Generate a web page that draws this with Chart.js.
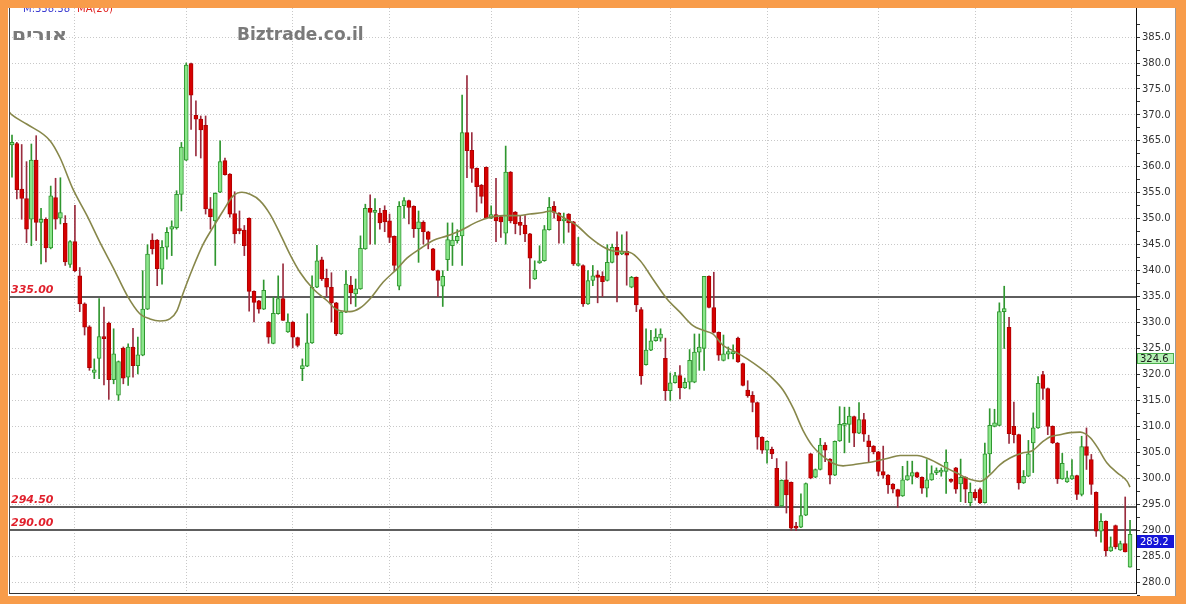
<!DOCTYPE html>
<html>
<head>
<meta charset="utf-8">
<script src="https://cdn.jsdelivr.net/npm/chart.js"></script>
<style>
  html, body { margin: 0; padding: 0; background: #f89c4a; }
  #wrap { width: 1186px; height: 604px; position: relative; }
</style>
</head>
<body>
<div id="wrap"><canvas id="priceChart"></canvas></div>
<script>
// ==================== DATA ====================
const opens = [
  364.2, 364.5, 355.7, 353.9, 349.9, 361.3, 349.3, 349.9, 344.4, 354.1,
  350.1, 349.1, 341.2, 345.6, 339.0, 333.6, 329.2, 320.4, 323.1, 327.3,
  329.9, 319.0, 316.0, 325.1, 319.5, 325.3, 321.7, 323.7, 332.6, 345.9,
  345.9, 340.3, 344.5, 348.0, 348.3, 354.7, 361.3, 379.9, 369.9, 369.2,
  368.0, 351.9, 349.6, 355.1, 361.2, 358.6, 351.0, 348.1, 347.8, 350.1,
  336.0, 334.2, 332.6, 330.1, 326.0, 331.7, 334.6, 328.2, 330.1, 327.1,
  321.1, 321.6, 326.1, 336.8, 342.1, 338.5, 336.8, 333.8, 327.8, 332.0,
  337.2, 335.5, 336.5, 344.2, 352.0, 351.2, 351.1, 351.6, 349.6, 346.6,
  337.0, 352.5, 353.5, 352.4, 348.1, 349.3, 347.5, 344.2, 340.0, 337.0,
  342.1, 344.8, 345.8, 346.7, 366.6, 363.2, 359.7, 356.5, 359.9, 350.1,
  350.8, 350.4, 347.2, 359.0, 351.3, 349.3, 348.8, 347.1, 338.4, 341.5,
  341.9, 347.9, 352.4, 351.1, 349.6, 350.9, 349.4, 341.0, 341.0, 333.6,
  338.1, 339.2, 338.9, 338.1, 341.6, 344.5, 343.2, 343.7, 336.8, 338.7,
  332.5, 321.9, 324.7, 326.5, 327.0, 323.1, 316.9, 318.4, 319.8, 317.4,
  318.5, 318.5, 324.3, 325.0, 338.9, 332.9, 328.1, 322.7, 323.9, 324.0,
  327.0, 322.1, 317.0, 316.0, 314.6, 307.9, 305.4, 305.6, 301.9, 294.7,
  299.7, 299.2, 290.6, 290.6, 292.9, 304.7, 300.2, 301.7, 306.4, 303.7,
  300.6, 307.2, 310.2, 310.4, 311.9, 308.7, 311.3, 307.2, 306.2, 305.1,
  301.3, 300.6, 298.9, 297.8, 296.6, 299.7, 300.4, 301.1, 300.2, 298.1,
  299.7, 301.1, 301.2, 301.3, 299.8, 302.0, 298.9, 300.2, 295.3, 297.3,
  297.8, 295.3, 304.7, 310.0, 310.2, 332.1, 329.1, 310.0, 308.4, 299.1,
  300.4, 306.8, 309.7, 320.0, 317.3, 310.0, 306.8, 299.9, 299.3, 299.9,
  300.5, 296.9, 306.1, 303.6, 297.3, 289.8, 291.7, 286.0, 290.9, 286.2,
  287.4, 282.9
];
const highs = [
  366.1, 364.7, 364.3, 361.0, 364.4, 366.0, 352.0, 350.2, 356.3, 357.8,
  357.9, 350.6, 345.8, 352.6, 340.6, 333.8, 329.4, 323.0, 334.6, 333.0,
  330.1, 328.8, 322.6, 325.3, 325.9, 328.9, 327.2, 340.0, 345.0, 347.1,
  346.0, 345.8, 348.3, 349.6, 355.4, 364.7, 380.0, 380.0, 372.7, 369.8,
  369.8, 354.1, 355.0, 365.0, 361.7, 358.7, 355.2, 351.5, 348.7, 350.2,
  336.1, 334.3, 338.2, 330.2, 334.9, 339.0, 341.3, 331.7, 330.2, 327.2,
  323.0, 331.7, 339.0, 344.9, 342.6, 340.3, 339.6, 333.9, 332.1, 340.0,
  338.9, 338.4, 346.7, 352.8, 354.6, 353.9, 352.0, 352.5, 350.9, 346.7,
  353.3, 354.1, 353.6, 352.5, 351.5, 349.6, 347.6, 344.3, 340.1, 340.0,
  349.2, 349.2, 347.9, 373.8, 377.6, 366.6, 359.8, 356.6, 360.0, 352.5,
  357.8, 350.5, 364.0, 359.1, 351.4, 350.6, 350.6, 347.2, 341.9, 344.8,
  348.7, 354.1, 353.3, 351.2, 351.1, 351.0, 349.5, 346.4, 341.1, 340.0,
  341.0, 340.0, 339.8, 345.0, 345.1, 347.5, 346.9, 347.5, 338.9, 338.8,
  332.9, 328.8, 328.5, 328.8, 328.8, 327.0, 320.3, 320.4, 321.7, 319.3,
  324.8, 327.8, 327.8, 338.9, 339.0, 339.7, 328.2, 327.6, 325.3, 325.7,
  327.2, 322.2, 318.8, 316.7, 314.7, 308.0, 307.2, 306.0, 303.8, 299.7,
  303.2, 299.3, 291.5, 297.0, 299.1, 304.8, 301.8, 307.7, 306.9, 303.8,
  307.2, 313.8, 313.7, 313.7, 312.0, 314.6, 312.5, 308.3, 306.3, 305.2,
  306.2, 300.7, 299.0, 297.9, 302.3, 303.3, 303.3, 301.2, 300.3, 303.6,
  302.4, 302.0, 302.0, 305.5, 299.9, 302.1, 303.7, 300.3, 299.1, 297.8,
  298.1, 306.8, 313.4, 313.3, 333.8, 337.0, 331.0, 314.7, 308.5, 301.5,
  307.3, 312.6, 319.6, 320.6, 317.4, 310.1, 306.9, 304.8, 301.4, 303.6,
  300.6, 308.1, 309.7, 304.6, 297.4, 293.2, 291.8, 288.7, 291.0, 287.9,
  296.4, 291.9
];
const lows = [
  358.0, 353.8, 349.9, 345.4, 344.8, 345.8, 341.3, 341.7, 344.2, 348.0,
  349.0, 341.0, 340.6, 339.8, 332.1, 327.6, 320.8, 319.2, 319.2, 318.0,
  315.2, 318.2, 315.0, 318.2, 317.9, 319.5, 320.1, 323.6, 332.5, 343.2,
  337.1, 337.4, 342.2, 342.9, 348.0, 351.5, 361.2, 367.2, 362.1, 361.7,
  350.9, 348.0, 341.0, 355.0, 358.4, 350.3, 345.3, 347.1, 342.9, 332.2,
  330.1, 331.8, 332.5, 326.0, 325.9, 331.6, 330.4, 328.1, 325.1, 325.3,
  318.8, 321.5, 326.0, 336.7, 338.1, 335.0, 330.1, 327.5, 327.7, 331.9,
  333.6, 333.1, 336.4, 344.1, 345.1, 345.1, 348.0, 347.5, 345.4, 340.0,
  336.3, 350.1, 349.0, 346.4, 341.6, 345.1, 344.2, 340.0, 335.0, 333.1,
  340.0, 341.0, 345.3, 341.0, 357.9, 357.0, 351.3, 353.0, 350.0, 350.0,
  345.6, 346.4, 345.1, 349.2, 347.1, 346.9, 345.6, 336.6, 338.3, 341.4,
  341.8, 347.8, 350.1, 345.3, 345.3, 347.4, 341.0, 340.9, 333.1, 333.5,
  337.1, 333.8, 335.0, 338.0, 341.5, 334.0, 343.1, 337.2, 336.7, 332.1,
  318.1, 321.8, 324.6, 326.4, 326.4, 315.0, 315.0, 318.3, 315.3, 317.3,
  317.2, 318.4, 320.8, 320.8, 332.8, 328.0, 322.7, 322.6, 323.0, 323.0,
  322.3, 317.8, 315.6, 312.8, 305.6, 304.8, 302.9, 303.8, 294.6, 294.6,
  293.3, 290.0, 289.9, 290.5, 292.8, 299.9, 300.1, 301.6, 303.2, 298.9,
  300.5, 307.1, 304.9, 306.9, 306.1, 308.6, 307.1, 303.2, 304.7, 300.5,
  300.0, 297.1, 297.2, 294.4, 296.5, 299.6, 298.9, 300.1, 297.1, 296.4,
  299.6, 300.7, 300.4, 297.1, 299.2, 297.1, 295.5, 295.3, 294.7, 295.8,
  295.1, 295.2, 301.0, 309.9, 310.1, 325.0, 306.7, 306.8, 297.9, 299.0,
  300.3, 301.1, 309.6, 315.2, 308.4, 306.7, 299.0, 299.8, 299.2, 299.8,
  295.9, 296.6, 301.7, 296.9, 288.8, 287.7, 285.0, 285.9, 286.4, 286.1,
  285.8, 282.9
];
const closes = [
  364.7, 355.6, 353.9, 348.0, 361.3, 349.3, 349.9, 344.4, 354.4, 349.9,
  351.2, 341.7, 345.6, 340.0, 333.6, 329.1, 321.3, 320.9, 327.3, 326.9,
  319.0, 324.0, 322.5, 319.3, 325.3, 321.7, 323.8, 332.6, 343.2, 344.2,
  340.4, 344.5, 347.4, 348.5, 354.7, 363.8, 379.6, 373.8, 369.2, 367.1,
  351.9, 350.4, 354.9, 361.0, 358.5, 350.9, 347.1, 347.7, 344.8, 336.0,
  333.9, 332.6, 336.2, 327.2, 331.8, 334.6, 330.4, 330.1, 327.2, 325.6,
  321.7, 326.1, 336.8, 341.9, 338.4, 336.8, 333.8, 327.8, 332.0, 337.4,
  335.7, 336.5, 344.3, 352.0, 351.2, 351.6, 349.2, 349.4, 346.4, 341.0,
  352.4, 353.5, 352.2, 348.1, 349.4, 347.5, 346.0, 340.1, 338.1, 338.9,
  346.0, 345.9, 346.6, 366.6, 363.1, 359.7, 356.2, 354.3, 350.1, 350.8,
  349.6, 349.4, 359.0, 349.6, 349.0, 348.7, 347.1, 342.4, 340.1, 341.9,
  347.9, 352.2, 351.2, 349.6, 349.9, 349.2, 341.3, 341.2, 333.6, 338.1,
  339.0, 338.7, 337.9, 341.6, 344.5, 343.0, 343.7, 343.0, 338.7, 333.4,
  319.7, 324.7, 326.5, 327.2, 327.8, 316.9, 318.4, 319.8, 317.4, 318.5,
  322.7, 324.3, 325.3, 338.9, 332.9, 328.1, 323.7, 324.0, 324.4, 324.4,
  322.4, 317.9, 315.9, 314.6, 307.9, 305.4, 307.1, 304.7, 294.7, 299.6,
  296.8, 290.4, 290.4, 292.8, 299.0, 300.0, 301.7, 306.4, 305.4, 300.6,
  307.1, 310.4, 310.4, 312.0, 308.7, 311.3, 308.5, 306.1, 305.1, 301.3,
  300.6, 298.7, 297.9, 296.5, 299.7, 300.5, 301.1, 300.2, 298.1, 299.7,
  300.9, 301.5, 301.5, 303.1, 299.4, 297.9, 300.2, 297.9, 297.3, 296.2,
  295.3, 304.7, 310.2, 310.7, 332.1, 332.7, 308.6, 308.4, 299.1, 300.4,
  304.7, 309.7, 318.3, 317.3, 310.0, 306.8, 299.9, 302.9, 300.1, 300.5,
  296.9, 306.1, 304.4, 298.8, 289.8, 291.7, 286.0, 286.8, 286.8, 287.4,
  285.8, 289.2
];

// moving average at these candle positions
const maIndex = [
  -0.6, 0, 3.1, 7.9, 9.9, 12.6, 15.5, 18.2, 20.9, 23.8, 26.4, 28.5, 30.6, 32.6,
  34.1, 35.3, 37.4, 39.5, 41.5, 43.6, 45.7, 47.5, 49.2, 51.2, 53.3, 55.4,
  57.4, 59.5, 62.2, 65.1, 67.1, 69.8, 71.9, 74.0, 76.7, 79.5, 81.6, 84.3,
  87.0, 89.9, 92.6, 96.1, 98.8, 101.4, 104.3, 107.0, 109.7, 111.2, 113.8,
  116.7, 119.4, 122.1, 124.2, 127.7, 129.8, 132.4, 135.3, 138.0, 140.7,
  142.8, 144.8, 146.9, 149.0, 151.9, 154.5, 157.2, 159.3, 161.4, 163.4,
  165.5, 167.6, 169.6, 171.7, 173.8, 175.8, 177.9, 180.8, 183.5, 187.0,
  189.7, 192.4, 195.2, 197.9, 200.0, 202.1, 204.1, 206.2, 208.9, 210.8,
  212.9, 214.5, 216.5, 218.6, 220.7, 221.7, 222.8, 224.3, 226.2, 228.3,
  230.4, 231.0
];
const maValues = [
  370.6, 370.0, 368.2, 365.0, 361.8, 355.7, 350.6, 345.4, 340.6, 335.2, 331.7,
  330.7, 330.3, 330.7, 332.3, 335.5, 340.6, 345.1, 348.3, 351.5, 354.4,
  355.1, 354.7, 353.5, 350.9, 347.1, 343.2, 339.7, 336.5, 334.2, 332.5,
  332.1, 332.8, 334.6, 337.8, 340.3, 342.4, 344.2, 345.8, 346.7, 347.7,
  349.4, 350.3, 350.6, 350.6, 350.9, 351.2, 351.5, 350.3, 348.7, 346.4,
  344.6, 343.8, 343.5, 341.9, 338.4, 334.6, 332.0, 329.4, 328.5, 327.8,
  325.6, 324.6, 323.0, 321.3, 319.2, 317.0, 313.5, 309.3, 306.1, 304.2,
  302.9, 302.4, 302.6, 302.9, 303.2, 303.8, 304.4, 304.4, 303.6, 302.3,
  301.0, 299.8, 299.4, 300.7, 302.6, 303.9, 304.9, 305.3, 307.0, 308.0,
  308.4, 308.8, 308.9, 308.6, 307.8, 305.9, 303.0, 301.1, 299.4, 298.3
];

// month boundaries (candle index) for the vertical grid
const monthStarts = [13, 36, 58, 78, 99, 117, 136, 156, 179, 199, 219];

// right axis labels
const yLabels = [280, 285, 290, 295, 300, 305, 310, 315, 320, 325, 330, 335,
                 340, 345, 350, 355, 360, 365, 370, 375, 380, 385];

// horizontal support / resistance levels
const levels = [335, 294.5, 290];

const maLast = 324.6;
const priceLast = 289.2;

// ==================== CHART ====================
const GREEN_FILL = '#8ae68a';
const GREEN_LINE = '#2f962f';
const RED_FILL = '#d60000';
const RED_LINE = '#b00000';
const RED_WICK = '#9a2c3e';

const isUp = opens.map((o, i) => closes[i] >= o);
const bodyData = opens.map((o, i) => ({ x: i, y: [o, closes[i]] }));
const wickData = lows.map((l, i) => ({ x: i, y: [l, highs[i]] }));
const maData = maIndex.map((x, i) => ({ x: x, y: maValues[i] }));

// minor ticks halfway between the labelled ones
const yTickValues = [];
yLabels.forEach(v => { yTickValues.push(v - 2.5); yTickValues.push(v); });
yTickValues.push(yLabels[yLabels.length - 1] + 2.5);

const decorPlugin = {
  id: 'decor',
  beforeDraw(chart) {
    const ctx = chart.ctx;
    ctx.save();
    ctx.fillStyle = '#f89c4a';
    ctx.fillRect(0, 0, chart.width, chart.height);
    ctx.fillStyle = '#ffffff';
    ctx.fillRect(8, 8, 1168, 588);
    ctx.strokeStyle = '#9a9a9a';
    ctx.lineWidth = 1;
    ctx.beginPath();
    ctx.moveTo(1175.5, 8);
    ctx.lineTo(1175.5, 596);
    ctx.stroke();
    ctx.restore();
  },
  beforeDatasetsDraw(chart) {
    const ctx = chart.ctx;
    const area = chart.chartArea;
    const y = chart.scales.y;
    ctx.save();
    // level lines
    ctx.strokeStyle = '#5e5e5e';
    ctx.lineWidth = 2;
    levels.forEach(v => {
      const py = Math.round(y.getPixelForValue(v));
      ctx.beginPath();
      ctx.moveTo(area.left, py);
      ctx.lineTo(area.right, py);
      ctx.stroke();
    });
    ctx.restore();
  },
  afterDraw(chart) {
    const ctx = chart.ctx;
    const area = chart.chartArea;
    const y = chart.scales.y;
    ctx.save();

    // left frame line
    ctx.strokeStyle = '#444';
    ctx.lineWidth = 1;
    ctx.beginPath();
    ctx.moveTo(9.5, 8);
    ctx.lineTo(9.5, area.bottom);
    ctx.stroke();

    // level labels
    ctx.font = 'italic bold 11px "DejaVu Sans"';
    ctx.fillStyle = '#e0202c';
    ctx.textBaseline = 'alphabetic';
    ctx.textAlign = 'left';
    levels.forEach(v => {
      const py = y.getPixelForValue(v);
      ctx.fillText(v.toFixed(2), 11, py - 4);
    });

    // header texts (clipped by the orange frame)
    ctx.save();
    ctx.beginPath();
    ctx.rect(8, 8, 1168, 588);
    ctx.clip();
    ctx.font = '10px "DejaVu Sans"';
    ctx.fillStyle = '#3b3bd0';
    ctx.fillText('M:338.38', 23, 12);
    ctx.fillStyle = '#e02020';
    ctx.fillText('MA(20)', 77, 12);
    ctx.restore();

    ctx.font = 'bold 17px "DejaVu Sans"';
    ctx.fillStyle = '#7a7a7a';
    ctx.fillText('Biztrade.co.il', 237, 40);

    // stock name, stretched a little to the width of the original
    ctx.save();
    ctx.translate(67, 40);
    ctx.scale(1.22, 1);
    ctx.direction = 'rtl';
    ctx.textAlign = 'right';
    ctx.fillText('אורים', 0, 0);
    ctx.restore();

    // last value boxes on the right axis
    ctx.font = '10px "DejaVu Sans"';
    ctx.textBaseline = 'middle';
    ctx.textAlign = 'left';
    let top = Math.round(y.getPixelForValue(maLast)) + 2;
    ctx.fillStyle = '#b6f2b6';
    ctx.fillRect(1137, top, 37, 11);
    ctx.strokeStyle = '#4caf4c';
    ctx.strokeRect(1137.5, top + 0.5, 36, 10);
    ctx.fillStyle = '#1a1a1a';
    ctx.fillText(maLast.toFixed(1), 1140, top + 6);

    top = Math.round(y.getPixelForValue(priceLast)) + 1;
    ctx.fillStyle = '#1616d8';
    ctx.fillRect(1137, top, 37, 13);
    ctx.fillStyle = '#ffffff';
    ctx.fillText(priceLast.toFixed(1), 1140, top + 7);

    ctx.restore();
  }
};

const ctx = document.getElementById('priceChart');
new Chart(ctx, {
  data: {
    datasets: [
      {
        type: 'line',
        label: 'MA',
        data: maData,
        borderColor: '#87874a',
        borderWidth: 1.6,
        pointRadius: 0,
        cubicInterpolationMode: 'monotone',
        order: -1
      },
      {
        type: 'bar',
        label: 'body',
        data: bodyData,
        backgroundColor: isUp.map(u => u ? GREEN_FILL : RED_FILL),
        borderColor: isUp.map(u => u ? GREEN_LINE : RED_LINE),
        borderWidth: 1,
        borderSkipped: false,
        barThickness: 4,
        minBarLength: 2,
        grouped: false,
        order: 0
      },
      {
        type: 'bar',
        label: 'wick',
        data: wickData,
        backgroundColor: isUp.map(u => u ? GREEN_LINE : RED_WICK),
        borderWidth: 0,
        barThickness: 1,
        grouped: false,
        order: 1
      }
    ]
  },
  options: {
    responsive: true,
    maintainAspectRatio: false,
    animation: false,
    events: [],
    layout: { padding: { left: 9, top: 8, right: 0, bottom: 11 } },
    plugins: {
      legend: { display: false },
      tooltip: { enabled: false }
    },
    scales: {
      x: {
        type: 'linear',
        offset: false,
        min: -0.62,
        max: 232.23,
        afterBuildTicks: scale => {
          scale.ticks = monthStarts.map(v => ({ value: v }));
        },
        afterFit: scale => { scale.height = 0; },
        ticks: { display: false },
        grid: { color: '#c8c8c8', lineWidth: 1, drawTicks: false, offset: false },
        border: { display: true, color: '#333', width: 1, dash: [1, 2] }
      },
      y: {
        type: 'linear',
        position: 'right',
        min: 277.9,
        max: 390.6,
        afterBuildTicks: scale => {
          scale.ticks = yTickValues.map(v => ({ value: v }));
        },
        afterFit: scale => { scale.width = 50; },
        ticks: {
          autoSkip: false,
          padding: 2,
          color: '#333',
          font: { family: '"DejaVu Sans"', size: 10 },
          callback: v => (v % 5 === 0 ? v.toFixed(1) : '')
        },
        grid: {
          color: c => (c.tick && c.tick.value % 5 === 0 ? '#c8c8c8' : 'rgba(0,0,0,0)'),
          tickColor: '#333',
          tickLength: 4,
          lineWidth: 1
        },
        border: { display: true, color: '#111', width: 1, dash: [1, 2] }
      }
    }
  },
  plugins: [decorPlugin]
});
</script>
</body>
</html>
